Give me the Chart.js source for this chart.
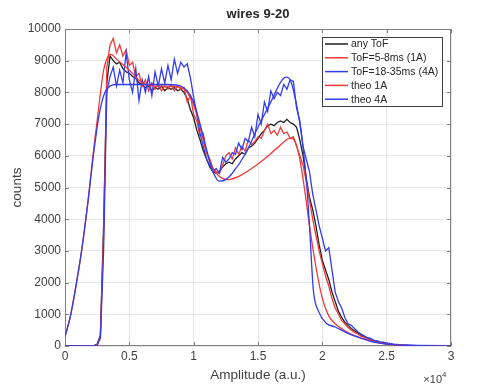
<!DOCTYPE html>
<html>
<head>
<meta charset="utf-8">
<script src="https://cdn.jsdelivr.net/npm/chart.js@4.4.0/dist/chart.umd.min.js"></script>
<style>
  html, body { margin: 0; padding: 0; background: #fff; }
  canvas { display: block; }
</style>
</head>
<body>
<canvas id="chart" width="498" height="390"></canvas>
<script>
// measured spectra, sampled every 250 a.u.
const amplitude = [0, 2250, 2500, 2750, 3000, 3250, 3500, 3750, 4000, 4250, 4500, 4750, 5000, 5250, 5500, 5750,
  6000, 6250, 6500, 6750, 7000, 7250, 7500, 7750, 8000, 8250, 8500, 8750, 9000, 9250, 9500, 9750,
  10000, 10250, 10500, 10750, 11000, 11250, 11500, 11750, 12000, 12250, 12500, 12750, 13000, 13250, 13500, 13750,
  14000, 14250, 14500, 14750, 15000, 15250, 15500, 15750, 16000, 16250, 16500, 16750, 17000, 17250, 17500, 17750,
  18000, 18250, 18500, 18750, 19000, 19250, 19500, 19750, 20000, 20250, 20500, 20750, 21000, 21250, 21500, 21750,
  22000, 22250, 22500, 22750, 23000, 23250, 23500, 23750, 24000, 24250, 24500, 24750, 25000, 25250, 25500, 25750,
  26000, 26250, 26500, 26750, 27000, 30000];

const anyTof = [0, 10, 60, 350, 3800, 8300, 9150, 9000, 8900, 8950, 8750, 8650, 8600, 8500, 8450, 8300,
  8250, 8150, 8200, 8050, 8150, 8100, 8200, 8050, 8150, 8100, 8150, 8050, 8100, 8000, 7800, 7450,
  7200, 6800, 6500, 6150, 5900, 5650, 5500, 5450, 5500, 5650, 5750, 5800, 5750, 5900, 6000, 6100,
  6050, 6250, 6300, 6400, 6550, 6700, 6800, 6950, 7000, 6950, 7050, 7100, 7050, 7150, 7050, 7000,
  6900, 6500, 6000, 5300, 4700, 4300, 3800, 3200, 2700, 2400, 2100, 1700, 1400, 1100, 900, 750,
  650, 550, 480, 420, 350, 300, 260, 220, 180, 150, 120, 100, 80, 60, 50, 40,
  30, 25, 20, 15, 10, 5];

const tof1A = [0, 10, 40, 300, 3500, 8800, 9500, 9700, 9250, 9500, 9150, 9350, 8850, 8950, 8500, 8600,
  8200, 8400, 8050, 8300, 8100, 8250, 8050, 8200, 8100, 8250, 8050, 8200, 8100, 8150, 7700, 7900,
  7300, 7100, 6600, 6700, 6100, 5900, 5600, 5500, 5450, 5700, 6000, 6100, 5900, 6250, 6050, 6300,
  6150, 6500, 6350, 6450, 6600, 6550, 6800, 7000, 6700, 6800, 6650, 6900, 6700, 6750, 6550, 6600,
  6300, 6000, 5700, 5200, 4600, 4000, 3500, 3000, 2600, 2200, 1900, 1500, 1200, 1000, 800, 700,
  580, 500, 430, 380, 310, 270, 230, 190, 160, 130, 110, 90, 70, 55, 45, 35,
  25, 20, 15, 10, 10, 5];

const tof4A = [0, 5, 20, 250, 3000, 8000, 8500, 8800, 8200, 8700, 8300, 9250, 8400, 8000, 8750, 7750,
  8400, 8000, 8500, 7900, 8650, 8200, 8750, 8300, 8850, 8400, 9050, 8600, 8950, 8800, 8900, 8450,
  7850, 7300, 6700, 6300, 5900, 5700, 5500, 5600, 5450, 5950, 5800, 5900, 6100, 6050, 6400, 6200,
  6550, 6450, 6900, 6600, 7300, 7000, 7700, 7400, 8050, 7800, 8000, 7900, 8250, 8100, 8400, 8350,
  7500, 7100, 6300, 5900, 5500, 4800, 4300, 3800, 3400, 3000, 3100, 2400, 1700, 1400, 1200, 900,
  700, 650, 550, 450, 380, 320, 260, 240, 180, 160, 130, 120, 90, 80, 60, 50,
  40, 30, 30, 20, 20, 10];

// theoretical curves
const theoAmp1A = [0, 400, 800, 1300, 1800, 2200, 2700, 3000, 3300, 3600, 4000, 5000, 6000, 7000, 8000, 9000,
  9500, 10000, 10500, 11000, 11500, 12000, 12700, 13500, 14500, 15500, 16500, 17500, 17800, 18200, 18600, 19000,
  19500, 20000, 20500, 21000, 22000, 23000, 24000, 25000, 27000, 30000];
const theo1A = [300, 900, 1770, 3030, 4600, 6100, 7800, 8700, 9100, 9200, 9050, 8700, 8300, 8200, 8200, 8150,
  8000, 7600, 6900, 6100, 5600, 5350, 5250, 5350, 5600, 5900, 6250, 6550, 6500, 6000, 5000, 3800,
  2500, 1500, 950, 700, 420, 250, 130, 60, 15, 0];

const theoAmp4A = [0, 400, 800, 1300, 1800, 2200, 2700, 3100, 3500, 4000, 6000, 8000, 9000, 9500, 10000, 10500,
  11000, 11500, 12000, 12500, 13000, 14000, 15000, 16000, 16800, 17200, 17500, 18000, 18400, 18800, 19000, 19300,
  19700, 20300, 21000, 22000, 23000, 24000, 25000, 27000, 30000];
const theo4A = [300, 900, 1770, 3030, 4600, 6000, 7400, 8000, 8200, 8250, 8250, 8250, 8200, 8050, 7700, 7000,
  6200, 5500, 5200, 5250, 5450, 6050, 6900, 7700, 8350, 8480, 8400, 7600, 6600, 5000, 3800, 1770,
  1100, 720, 600, 400, 250, 120, 60, 20, 0];

const seriesLabels = ['any ToF', 'ToF=5-8ms (1A)', 'ToF=18-35ms (4A)', 'theo 1A', 'theo 4A'];

const RED = 'rgb(238,58,58)';
const BLUE = 'rgb(50,60,238)';
const BLACK = '#1e1e1e';
const AXIS = '#808080';
const TEXT = '#404040';
const FONT = "'Liberation Sans', Arial, sans-serif";

const pts = (xs, ys) => xs.map((x, i) => ({ x: x, y: ys[i] }));

const frame = {
  id: 'frame',
  beforeDatasetsDraw(chart) {
    const { ctx, chartArea: a, scales: { x, y } } = chart;
    ctx.save();
    ctx.strokeStyle = AXIS;
    ctx.lineWidth = 1;
    ctx.strokeRect(a.left + 0.5, a.top + 0.5, a.right - a.left - 1, a.bottom - a.top - 1);
    ctx.beginPath();
    x.ticks.forEach(t => {
      const px = Math.round(x.getPixelForValue(t.value)) + 0.5;
      ctx.moveTo(px, a.bottom); ctx.lineTo(px, a.bottom - 4);
      ctx.moveTo(px, a.top); ctx.lineTo(px, a.top + 4);
    });
    y.ticks.forEach(t => {
      const py = Math.round(y.getPixelForValue(t.value)) + 0.5;
      ctx.moveTo(a.left, py); ctx.lineTo(a.left + 4, py);
      ctx.moveTo(a.right, py); ctx.lineTo(a.right - 4, py);
    });
    ctx.stroke();
    ctx.restore();
  },
  afterDatasetsDraw(chart) {
    const { ctx, chartArea: a } = chart;
    ctx.save();
    // legend box
    const bx = 322, by = 37, bw = 120, bh = 69;
    ctx.fillStyle = '#fff';
    ctx.fillRect(bx, by, bw, bh);
    ctx.strokeStyle = '#404040';
    ctx.lineWidth = 1;
    ctx.strokeRect(bx + 0.5, by + 0.5, bw, bh);
    ctx.font = '10.5px ' + FONT;
    ctx.textBaseline = 'middle';
    ctx.textAlign = 'left';
    chart.data.datasets.forEach((ds, i) => {
      const cy = by + 7 + i * 13.8;
      ctx.strokeStyle = ds.borderColor;
      ctx.lineWidth = 1.5;
      ctx.beginPath();
      ctx.moveTo(bx + 3, cy); ctx.lineTo(bx + 26, cy);
      ctx.stroke();
      ctx.fillStyle = '#262626';
      ctx.fillText(ds.label, bx + 29, cy + 0.5);
    });
    // exponent label
    ctx.fillStyle = TEXT;
    ctx.textAlign = 'right';
    ctx.textBaseline = 'alphabetic';
    ctx.font = '11px ' + FONT;
    ctx.fillText('\u00d710', a.right - 9, 383);
    ctx.textAlign = 'left';
    ctx.font = '8px ' + FONT;
    ctx.fillText('4', a.right - 9, 377);
    ctx.restore();
  }
};

new Chart(document.getElementById('chart'), {
  type: 'line',
  data: {
    datasets: [
      { label: seriesLabels[0], data: pts(amplitude, anyTof), borderColor: BLACK, order: 4 },
      { label: seriesLabels[1], data: pts(amplitude, tof1A), borderColor: RED, order: 3 },
      { label: seriesLabels[2], data: pts(amplitude, tof4A), borderColor: BLUE, order: 2 },
      { label: seriesLabels[3], data: pts(theoAmp1A, theo1A), borderColor: RED, order: 1, cubicInterpolationMode: 'monotone' },
      { label: seriesLabels[4], data: pts(theoAmp4A, theo4A), borderColor: BLUE, order: 0, cubicInterpolationMode: 'monotone' }
    ]
  },
  options: {
    responsive: false,
    animation: false,
    layout: { padding: { left: 0, right: 47, top: 0, bottom: 0 } },
    elements: {
      point: { radius: 0 },
      line: { borderWidth: 1.3, fill: false }
    },
    plugins: {
      legend: { display: false },
      tooltip: { enabled: false },
      title: {
        display: true,
        text: 'wires 9-20',
        fullSize: false,
        color: '#262626',
        font: { family: FONT, size: 13, weight: 'bold' },
        padding: { top: 6.2, bottom: 7.2 }
      }
    },
    scales: {
      x: {
        type: 'linear',
        min: 0,
        max: 30000,
        afterFit: s => { s.height = 44; },
        grid: { color: '#e6e6e6', drawTicks: false },
        border: { display: false },
        ticks: {
          stepSize: 5000,
          maxRotation: 0,
          autoSkip: false,
          padding: 3,
          color: TEXT,
          font: { family: FONT, size: 12 },
          callback: v => String(v / 10000)
        },
        title: {
          display: true,
          text: 'Amplitude (a.u.)',
          color: TEXT,
          font: { family: FONT, size: 13.5 },
          padding: { top: 0, bottom: 6.9 }
        }
      },
      y: {
        min: 0,
        max: 10000,
        afterFit: s => { s.width = 65; },
        grid: { color: '#e6e6e6', drawTicks: false },
        border: { display: false },
        ticks: {
          stepSize: 1000,
          padding: 4,
          color: TEXT,
          font: { family: FONT, size: 12 },
          callback: v => String(v)
        },
        title: {
          display: true,
          text: 'counts',
          color: TEXT,
          font: { family: FONT, size: 13.5 },
          padding: { top: 9.5, bottom: 0 }
        }
      }
    }
  },
  plugins: [frame]
});
</script>
</body>
</html>
